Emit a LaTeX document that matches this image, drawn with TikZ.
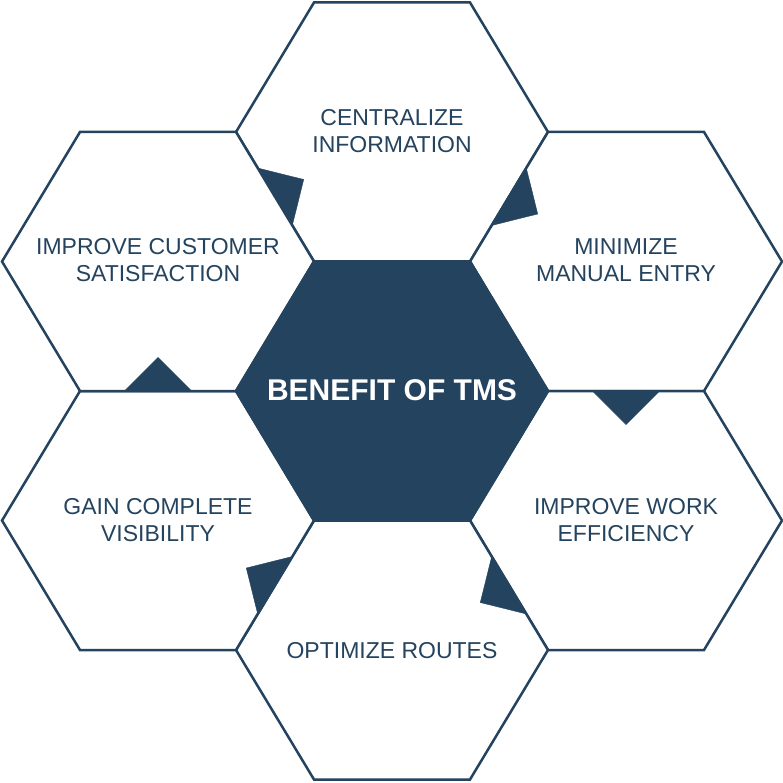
\documentclass[tikz,border=0pt]{standalone}
\usepackage{fontspec}
\setmainfont{Liberation Sans}
\definecolor{navy}{HTML}{24435E}
\begin{document}
\begin{tikzpicture}[x=1pt,y=-1pt,
  hexline/.style={draw=navy,line width=2.5pt,line join=miter,fill=white},
  hexcore/.style={draw=navy,line width=2.5pt,line join=miter,fill=navy},
  pointer/.style={fill=navy,draw=navy,line width=0.4pt,line join=miter},
  label/.style={text=navy,align=center,font=\fontsize{23}{26.7}\selectfont},
  corelabel/.style={text=white,align=center,font=\fontsize{30}{34}\selectfont\bfseries},
  pics/hexa/.style={code={\path[#1] (-156,0) -- (-78,-129.5) -- (78,-129.5) -- (156,0) -- (78,129.5) -- (-78,129.5) -- cycle;}}
]
\useasboundingbox (0,0) rectangle (783,783);
% outer hexagons
\pic at (392,132) {hexa=hexline};
\pic at (626,261.5) {hexa=hexline};
\pic at (626,520.5) {hexa=hexline};
\pic at (392,650) {hexa=hexline};
\pic at (158,520.5) {hexa=hexline};
\pic at (158,261.5) {hexa=hexline};
% centre hexagon
\pic at (392,391) {hexa=hexcore};
% direction pointers
\fill[pointer] (257.7,168.05) -- (303.7,179.5) -- (292.3,225.45) -- cycle;
\fill[pointer] (526.3,168.05) -- (537.7,214.0) -- (491.7,225.45) -- cycle;
\fill[pointer] (592.5,391) -- (626,424.5) -- (659.5,391) -- cycle;
\fill[pointer] (491.7,556.55) -- (480.3,602.5) -- (526.3,613.95) -- cycle;
\fill[pointer] (292.3,556.55) -- (246.3,568.0) -- (257.7,613.95) -- cycle;
\fill[pointer] (124.5,391) -- (158,357.5) -- (191.5,391) -- cycle;
% labels
\node[corelabel] (core) at (392,390) {BENEFIT OF TMS};
\node[label] (top) at (392,131) {CENTRALIZE\\INFORMATION};
\node[label] (ur) at (626,260) {MINIMIZE\\MANUAL ENTRY};
\node[label] (lr) at (626,520) {IMPROVE WORK\\EFFICIENCY};
\node[label] (bot) at (392,651) {OPTIMIZE ROUTES};
\node[label] (ll) at (158,520) {GAIN COMPLETE\\VISIBILITY};
\node[label] (ul) at (158,260) {IMPROVE CUSTOMER\\SATISFACTION};
\end{tikzpicture}
\end{document}
